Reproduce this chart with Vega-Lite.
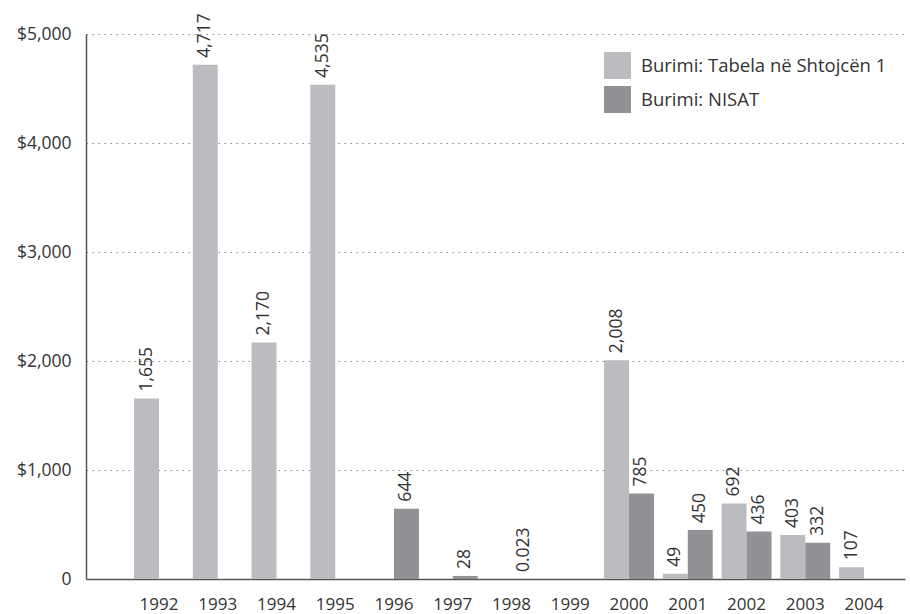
{
  "$schema": "https://vega.github.io/schema/vega-lite/v6.json",
  "width": 819,
  "height": 545,
  "autosize": "none",
  "padding": {"left": 86, "top": 34, "right": 5, "bottom": 35},
  "background": "white",
  "config": {
    "font": "Open Sans",
    "view": {"stroke": null},
    "text": {"font": "Open Sans"}
  },
  "data": {
    "values": [
      {"year": "1992", "series": "Burimi: Tabela në Shtojcën 1", "value": 1655},
      {"year": "1993", "series": "Burimi: Tabela në Shtojcën 1", "value": 4717},
      {"year": "1994", "series": "Burimi: Tabela në Shtojcën 1", "value": 2170},
      {"year": "1995", "series": "Burimi: Tabela në Shtojcën 1", "value": 4535},
      {"year": "1996", "series": "Burimi: NISAT", "value": 644},
      {"year": "1997", "series": "Burimi: NISAT", "value": 28},
      {"year": "1998", "series": "Burimi: NISAT", "value": 0.023},
      {"year": "2000", "series": "Burimi: Tabela në Shtojcën 1", "value": 2008},
      {"year": "2000", "series": "Burimi: NISAT", "value": 785},
      {"year": "2001", "series": "Burimi: Tabela në Shtojcën 1", "value": 49},
      {"year": "2001", "series": "Burimi: NISAT", "value": 450},
      {"year": "2002", "series": "Burimi: Tabela në Shtojcën 1", "value": 692},
      {"year": "2002", "series": "Burimi: NISAT", "value": 436},
      {"year": "2003", "series": "Burimi: Tabela në Shtojcën 1", "value": 403},
      {"year": "2003", "series": "Burimi: NISAT", "value": 332},
      {"year": "2004", "series": "Burimi: Tabela në Shtojcën 1", "value": 107}
    ]
  },
  "encoding": {
    "x": {
      "field": "year",
      "type": "nominal",
      "scale": {
        "domain": ["1992","1993","1994","1995","1996","1997","1998","1999","2000","2001","2002","2003","2004"],
        "paddingInner": 0.15,
        "paddingOuter": 0.545,
        "align": 0.75
      },
      "axis": {
        "title": null,
        "labelAngle": 0,
        "ticks": false,
        "labelPadding": 17,
        "labelFontSize": 17,
        "labelColor": "#333333",
        "labelFont": "Open Sans",
        "domainColor": "#555555",
        "domainWidth": 1.5
      }
    },
    "xOffset": {
      "field": "series",
      "type": "nominal",
      "scale": {"domain": ["Burimi: Tabela në Shtojcën 1", "Burimi: NISAT"], "paddingInner": 0, "paddingOuter": 0}
    },
    "y": {
      "field": "value",
      "type": "quantitative",
      "scale": {"domain": [0, 5000], "nice": false},
      "axis": {
        "title": null,
        "values": [0, 1000, 2000, 3000, 4000, 5000],
        "labelExpr": "datum.value == 0 ? '0' : '$' + format(datum.value, ',')",
        "ticks": false,
        "labelPadding": 15,
        "labelFontSize": 17.5,
        "labelColor": "#333333",
        "labelFont": "Open Sans",
        "domainColor": "#555555",
        "domainWidth": 1.5,
        "grid": true,
        "gridColor": "#888888",
        "gridDash": [1.5, 4.5],
        "gridWidth": 1.2
      }
    }
  },
  "layer": [
    {
      "mark": {"type": "bar"},
      "encoding": {
        "color": {
          "field": "series",
          "type": "nominal",
          "scale": {
            "domain": ["Burimi: Tabela në Shtojcën 1", "Burimi: NISAT"],
            "range": ["#bbbcbf", "#919295"]
          },
          "legend": {
            "title": null,
            "orient": "none",
            "legendX": 518,
            "legendY": 18,
            "padding": 0,
            "symbolType": "square",
            "symbolSize": 729,
            "symbolStrokeWidth": 0,
            "rowPadding": 7,
            "labelOffset": 10,
            "labelFontSize": 18.5,
            "labelColor": "#333333",
            "labelFont": "Open Sans",
            "labelLimit": 400
          }
        }
      }
    },
    {
      "mark": {
        "type": "text",
        "angle": 270,
        "align": "left",
        "baseline": "middle",
        "dx": 7,
        "fontSize": 17.5,
        "color": "#333333"
      },
      "encoding": {
        "text": {"field": "value", "type": "quantitative", "format": ","}
      }
    }
  ]
}
